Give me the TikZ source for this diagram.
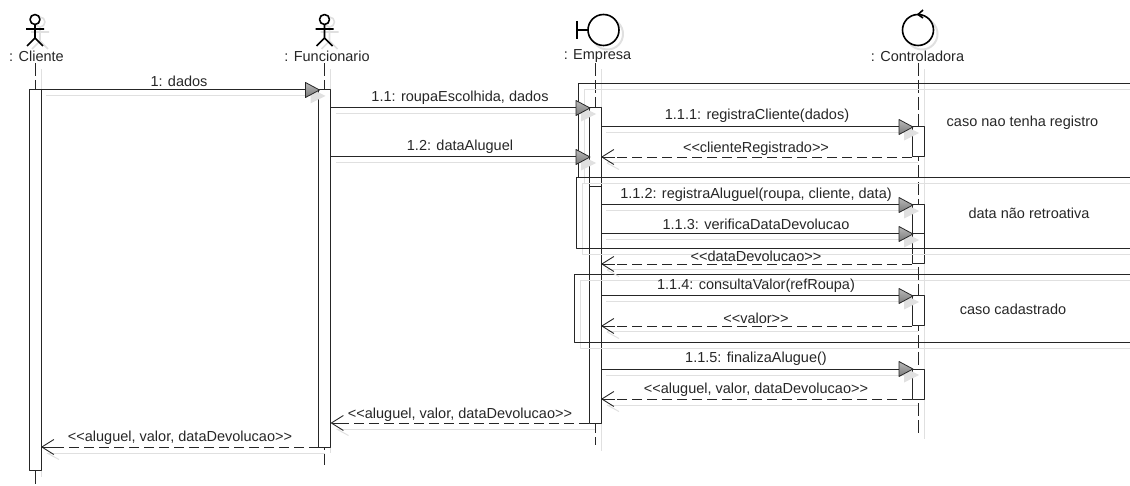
\documentclass[tikz,border=0pt]{standalone}
\usepackage{fontspec}
\setmainfont{Liberation Sans}
\usetikzlibrary{arrows.meta}

\definecolor{shadowgray}{gray}{0.88}
\definecolor{inkgray}{gray}{0.15}

\tikzset{
  shadowline/.style={draw=shadowgray, line width=1pt},
  lifeline/.style={draw=inkgray, line width=1pt, dash pattern=on 13pt off 4pt},
  lifebox/.style={draw=inkgray, fill=white, line width=1pt, inner sep=0pt, outer sep=0pt, minimum width=12pt},
  framebox/.style={draw=inkgray, line width=1pt},
  figure/.style={draw=black, line width=1.6pt},
  figshadow/.style={draw=shadowgray, line width=1.6pt},
  msgline/.style={draw=inkgray, line width=1pt},
  retline/.style={draw=inkgray, line width=0.9pt, dash pattern=on 10pt off 5pt},
  rettip/.style={-{Straight Barb[length=12pt,width=15pt]}},
  txtlabel/.style={text=inkgray, inner sep=0pt, font=\fontsize{14.5}{16}\selectfont}
}

% filled arrow head, tip on the given coordinate
\newcommand{\synctip}[1]{
  \fill[shadowgray] ([shift={(6,6)}]#1) -- ++(-15,-7.5) -- ++(0,15) -- cycle;
  \shade[top color=gray!55, bottom color=gray!95!black, draw=inkgray, line width=0.8pt] (#1) -- ++(-14,-7.5) -- ++(0,15) -- cycle;
}

\begin{document}
\begin{tikzpicture}[x=1pt, y=-1pt, line join=round]
  \useasboundingbox (0,0) rectangle (1130,486);
  \def\xc{35}
  \def\xf{324.5}
  \def\xe{595}
  \def\xk{918}

  % shadows of the figures
  \foreach \x in {\xc,\xf}{
    \begin{scope}[shift={(\x+5,3)}]
      \draw[figshadow] (0,19) circle (5);
      \draw[figshadow] (0,24) -- (0,38) (-9,29) -- (9,29) (-8,46) -- (0,38) -- (8,46);
    \end{scope}
  }
  \draw[figshadow, line width=2pt] (607.5,34) circle (15.5);
  \draw[figshadow, line width=2pt] (922,34) circle (15.5);

  % actors
  \foreach \x in {\xc,\xf}{
    \begin{scope}[shift={(\x,0)}]
      \draw[figure, fill=white] (0,19.5) circle (5);
      \draw[figure] (0,24.5) -- (0,38) (-9,29) -- (9,29) (-8,46) -- (0,38) -- (8,46);
    \end{scope}
  }
  % boundary and control
  \draw[figure, fill=white] (603.5,30) circle (15.5);
  \draw[figure] (577,21) -- (577,39) (577,30) -- (588,30);
  \draw[figure, fill=white] (918,30) circle (15.5);
  \draw[figure] (923,10) -- (918,14.5) -- (923,18);

  \node[txtlabel] (lblCliente) at (36.5,56) {: Cliente};
  \node[txtlabel] (lblFuncionario) at (327,56) {: Funcionario};
  \node[txtlabel] (lblEmpresa) at (597.5,56) {: Empresa};
  \node[txtlabel] (lblControladora) at (917.5,56) {: Controladora};

  % lifelines
  \foreach \x/\ya/\yb in {\xc/69/477, \xf/69/453, \xe/69/451, \xk/69/439}{
    \draw[shadowline] (\x+6,\ya) -- (\x+6,\yb);
  }
  \foreach \n/\x/\yb in {Cliente/\xc/486, Funcionario/\xf/465, Empresa/\xe/445, Controladora/\xk/433}{
    \coordinate (end\n) at (\x,\yb);
    \draw[lifeline] (\x,63) -- (end\n);
  }

  % activation boxes
  \foreach \n/\x/\ya/\yb in {boxC/\xc/90/470, boxF/\xf/90/447, boxE/\xe/108/187, boxEb/\xe/187/423,
      boxKa/\xk/127/157, boxKb/\xk/205/234, boxKc/\xk/234/264, boxKd/\xk/296/326, boxKe/\xk/369/399}{
    \node[lifebox, minimum height={(\yb-\ya)*1pt}] (\n) at (\x,{(\ya+\yb)/2}) {};
  }

  % frames
  \foreach \xl/\yt/\yb in {578/84/178, 576/178/249, 574/275/343}{
    \draw[shadowline] (1130,\yt+6) -- (\xl+6,\yt+6) -- (\xl+6,\yb+6) -- (1130,\yb+6);
    \draw[framebox] (1130,\yt) -- (\xl,\yt) -- (\xl,\yb) -- (1130,\yb);
  }
  \node[txtlabel] (noteRegistro) at (1022.5,123) {caso nao tenha registro};
  \node[txtlabel] (noteData) at (1029,213) {data não retroativa};
  \node[txtlabel] (noteCadastro) at (1013,309) {caso cadastrado};

  % calls
  \foreach \n/\a/\b/\y/\xt/\yt/\t in {
      mDados/boxC.east/boxF.west/90/179/81/{1: dados},
      mRoupa/boxF.east/boxE.west/108/460/98/{1.1: roupaEscolhida, dados},
      mAluguel/boxF.east/boxE.west/157/460/147/{1.2: dataAluguel},
      mRegistra/boxE.east/boxKa.west/127/757/116/{1.1.1: registraCliente(dados)},
      mRegAluguel/boxEb.east/boxKb.west/205/756/195/{1.1.2: registraAluguel(roupa, cliente, data)},
      mVerifica/boxEb.east/boxKc.west/234/756/224/{1.1.3: verificaDataDevolucao},
      mConsulta/boxEb.east/boxKd.west/296/756/286/{1.1.4: consultaValor(refRoupa)},
      mFinaliza/boxEb.east/boxKe.west/369/756/359/{1.1.5: finalizaAlugue()}}{
    \coordinate (\n A) at (\a |- 0,\y);
    \coordinate (\n B) at ([xshift=1pt]\b |- 0,\y);
    \draw[shadowline] ([shift={(5,6)}]\n A) -- ([shift={(-2,6)}]\n B);
    \draw[msgline] (\n A) -- (\n B);
    \synctip{\n B}
    \node[txtlabel] (\n T) at (\xt,\yt) {\t};
  }
  \draw[msgline] (boxKc.north west) -- (boxKc.north east);

  % returns
  \foreach \n/\a/\b/\y/\xt/\yt/\t in {
      rCliente/boxKa.west/boxE.east/157/756/149/{{<}{<}clienteRegistrado{>}{>}},
      rData/boxKc.west/boxEb.east/264/756/256/{{<}{<}dataDevolucao{>}{>}},
      rValor/boxKd.west/boxEb.east/326/756/318/{{<}{<}valor{>}{>}},
      rFinal/boxKe.west/boxEb.east/399/756/390/{{<}{<}aluguel, valor, dataDevolucao{>}{>}},
      rEmpresa/boxEb.west/boxF.east/423/460/415/{{<}{<}aluguel, valor, dataDevolucao{>}{>}},
      rFunc/boxF.west/boxC.east/447/180/438/{{<}{<}aluguel, valor, dataDevolucao{>}{>}}}{
    \coordinate (\n A) at (\a |- 0,\y);
    \coordinate (\n B) at (\b |- 0,\y);
    \draw[shadowline] ([shift={(6,6)}]\n B) -- ([shift={(6,6)}]\n A);
    \draw[shadowline] ([shift={(6,6)}]\n B) -- ++(12,6.5);
    \draw[retline, rettip, solid] ([xshift=14pt]\n B) -- (\n B);
    \draw[retline] (\n A) -- ([xshift=1pt]\n B);
    \node[txtlabel] (\n T) at (\xt,\yt) {\t};
  }
\end{tikzpicture}
\end{document}
